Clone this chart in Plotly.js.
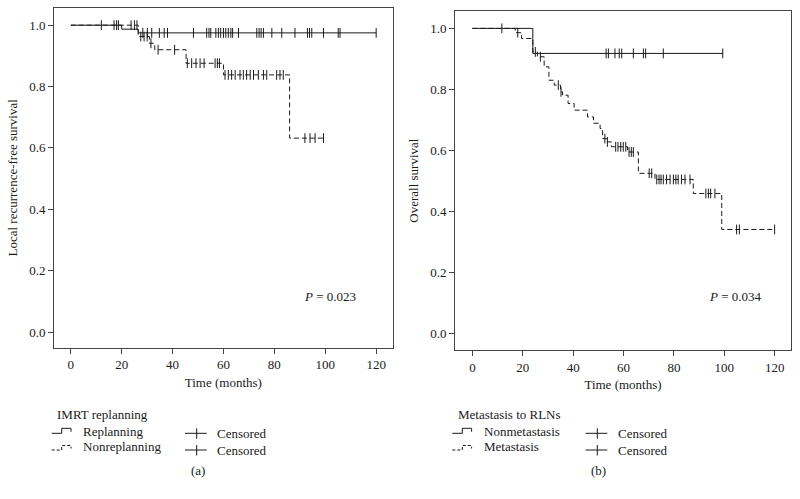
<!DOCTYPE html>
<html>
<head>
<meta charset="utf-8">
<script src="https://cdn.plot.ly/plotly-3.0.1.min.js"></script>
<style>html,body{margin:0;padding:0;background:#fff;}#chart{width:800px;height:499px;}</style>
</head>
<body>
<div id="chart"></div>
<script>
// ---- Panel (a): IMRT replanning, local recurrence-free survival ----
const replanTimes = [0, 20, 26.5, 120];
const replanSurv  = [1, 0.987, 0.975, 0.975];
const replanCensor = [12, 17, 18, 18.7, 28.3, 30.1, 31.8, 34.8, 36.7, 38, 48.2, 53.4, 54.3, 55, 57, 58, 58.9, 60, 60.9, 61.9, 62.9, 63.6, 65.9, 73.1, 74, 74.8, 75.7, 79, 82.9, 88.1, 93, 93.8, 94.7, 99.3, 105.1, 105.8, 120];

const nonreplanTimes = [0, 26.5, 30.9, 33, 45.3, 60, 86, 99.3];
const nonreplanSurv  = [1, 0.963, 0.941, 0.92, 0.876, 0.838, 0.632, 0.632];
const nonreplanCensor = [23.7, 25, 26, 27.5, 28.8, 30, 31.5, 34.3, 40.8, 45.8, 47.5, 49.2, 50.8, 52.4, 56.7, 57.6, 58.4, 60.6, 61.9, 63.2, 64.6, 66.5, 67.8, 69.1, 70.5, 71.8, 73.7, 75.7, 77, 80.9, 82.2, 83.5, 92, 94, 96, 99.3];

// ---- Panel (b): Metastasis to RLNs, overall survival ----
const nonmetTimes = [0, 24, 99.5];
const nonmetSurv  = [1, 0.918, 0.918];
const nonmetCensor = [11.7, 53.1, 54, 56.6, 58.3, 59.3, 63.9, 67.9, 68.8, 75.8, 99.4];

const metTimes = [0, 17, 19.5, 24, 25.8, 28.5, 30.4, 32.5, 35, 35.8, 38, 40.4, 45.7, 48.1, 50.7, 51.7, 53.2, 55.2, 61.6, 65.9, 72.5, 87.7, 99, 120];
const metSurv  = [1, 0.986, 0.967, 0.923, 0.907, 0.874, 0.83, 0.814, 0.792, 0.781, 0.754, 0.732, 0.71, 0.689, 0.672, 0.639, 0.628, 0.612, 0.595, 0.525, 0.505, 0.459, 0.341, 0.341];
const metCensor = [18, 25, 27, 34.1, 35.2, 52.6, 53.6, 56.9, 57.8, 58.9, 59.9, 60.9, 62.2, 63.1, 63.9, 70.2, 71.2, 73.2, 74.1, 74.9, 75.8, 77.1, 78.5, 79.8, 80.8, 81.7, 83, 84.4, 86.4, 92.7, 93.7, 94.6, 96.3, 104.9, 106, 120];

const xTicks = [0, 20, 40, 60, 80, 100, 120];
const yTicks = [0, 0.2, 0.4, 0.6, 0.8, 1.0];
const yTickText = ['0.0', '0.2', '0.4', '0.6', '0.8', '1.0'];

const FONT = 'Liberation Serif, Times New Roman, serif';
const INK = '#1a1a1a';
const W = 800, H = 499;

function stepAt(times, surv, t) {
  let v = surv[0];
  for (let i = 0; i < times.length; i++) { if (times[i] <= t) v = surv[i]; }
  return v;
}
function curve(times, surv, xa, ya, dash) {
  return {type: 'scatter', mode: 'lines', x: times, y: surv, xaxis: xa, yaxis: ya,
          line: {shape: 'hv', color: INK, width: 1, dash: dash}, hoverinfo: 'skip', showlegend: false};
}
function censor(ct, times, surv, xa, ya) {
  return {type: 'scatter', mode: 'markers', x: ct, y: ct.map(t => stepAt(times, surv, t)), xaxis: xa, yaxis: ya,
          marker: {symbol: 'line-ns-open', size: 7, color: INK, line: {color: INK, width: 1}}, hoverinfo: 'skip', showlegend: false};
}

const DASH = '5px,3px';
const data = [
  curve(replanTimes, replanSurv, 'x', 'y', 'solid'),
  curve(nonreplanTimes, nonreplanSurv, 'x', 'y', DASH),
  censor(replanCensor, replanTimes, replanSurv, 'x', 'y'),
  censor(nonreplanCensor, nonreplanTimes, nonreplanSurv, 'x', 'y'),
  curve(nonmetTimes, nonmetSurv, 'x2', 'y2', 'solid'),
  curve(metTimes, metSurv, 'x2', 'y2', DASH),
  censor(nonmetCensor, nonmetTimes, nonmetSurv, 'x2', 'y2'),
  censor(metCensor, metTimes, metSurv, 'x2', 'y2')
];

function xAxis(dom, rng, anchor) {
  return {domain: dom, range: rng, anchor: anchor, tickvals: xTicks, ticks: 'outside', ticklen: 5, tickwidth: 1,
          tickcolor: '#444', showline: true, mirror: true, linecolor: '#444', linewidth: 1, showgrid: false, zeroline: false,
          tickfont: {family: FONT, size: 13, color: INK},
          title: {text: 'Time (months)', font: {family: FONT, size: 13, color: INK}, standoff: 6}};
}
function yAxis(dom, rng, anchor, title) {
  return {domain: dom, range: rng, anchor: anchor, tickvals: yTicks, ticktext: yTickText, ticks: 'outside', ticklen: 5, tickwidth: 1,
          tickcolor: '#444', showline: true, mirror: true, linecolor: '#444', linewidth: 1, showgrid: false, zeroline: false,
          tickfont: {family: FONT, size: 13, color: INK},
          title: {text: title, font: {family: FONT, size: 13, color: INK}, standoff: 8}};
}

const px = (x) => x / W;
const py = (y) => 1 - y / H;
function pathOf(pts) { return pts.map((p, i) => (i ? 'L' : 'M') + px(p[0]) + ',' + py(p[1])).join(' '); }

const shapes = [];
const annotations = [];
function txt(text, x, y, anchor) {
  annotations.push({text: text, x: px(x), y: py(y), xref: 'paper', yref: 'paper', xanchor: anchor || 'left', yanchor: 'middle',
                    showarrow: false, font: {family: FONT, size: 13, color: INK}});
}
function legendBlock(ox, title, solidName, dashName) {
  txt(title, ox + 3.3, 414);
  shapes.push({type: 'path', xref: 'paper', yref: 'paper', path: pathOf([[ox, 433.3], [ox + 10, 433.3], [ox + 10, 428.3], [ox + 19.3, 428.3], [ox + 19.3, 431.7]]), line: {color: INK, width: 1}});
  shapes.push({type: 'path', xref: 'paper', yref: 'paper', path: pathOf([[ox, 450], [ox + 10, 450], [ox + 10, 445.5], [ox + 19.3, 445.5], [ox + 19.3, 448.5]]), line: {color: INK, width: 1, dash: '3px,2px'}});
  txt(solidName, ox + 29.3, 431.7);
  txt(dashName, ox + 29.3, 446.7);
  [433.3, 450].forEach(y => {
    shapes.push({type: 'line', xref: 'paper', yref: 'paper', x0: px(ox + 133.3), x1: px(ox + 155), y0: py(y), y1: py(y), line: {color: INK, width: 1}});
    shapes.push({type: 'line', xref: 'paper', yref: 'paper', x0: px(ox + 145), x1: px(ox + 145), y0: py(y - 5), y1: py(y + 5.5), line: {color: INK, width: 1}});
    txt('Censored', ox + 163.3, y);
  });
}
legendBlock(51.7, 'IMRT replanning', 'Replanning', 'Nonreplanning');
legendBlock(452.3, 'Metastasis to RLNs', 'Nonmetastasis', 'Metastasis');
txt('(a)', 198, 470, 'center');
txt('(b)', 598.5, 470, 'center');
txt('<i>P</i> = 0.023', 329.7, 296, 'center');
txt('<i>P</i> = 0.034', 735.5, 296.7, 'center');

const layout = {
  width: W, height: H, margin: {l: 0, r: 0, t: 0, b: 0}, paper_bgcolor: '#fff', plot_bgcolor: '#fff', showlegend: false,
  xaxis: xAxis([54 / W, 392.7 / W], [-6.6, 126.5], 'y'),
  yaxis: yAxis([1 - 347.7 / H, 1 - 8 / H], [-0.051, 1.056], 'x', 'Local recurrence-free survival'),
  xaxis2: xAxis([455 / W, 791 / W], [-6.9, 126.5], 'y2'),
  yaxis2: yAxis([1 - 350 / H, 1 - 11.3 / H], [-0.054, 1.056], 'x2', 'Overall survival'),
  shapes: shapes, annotations: annotations
};
Plotly.newPlot('chart', data, layout, {staticPlot: true, displayModeBar: false});
</script>
</body>
</html>
